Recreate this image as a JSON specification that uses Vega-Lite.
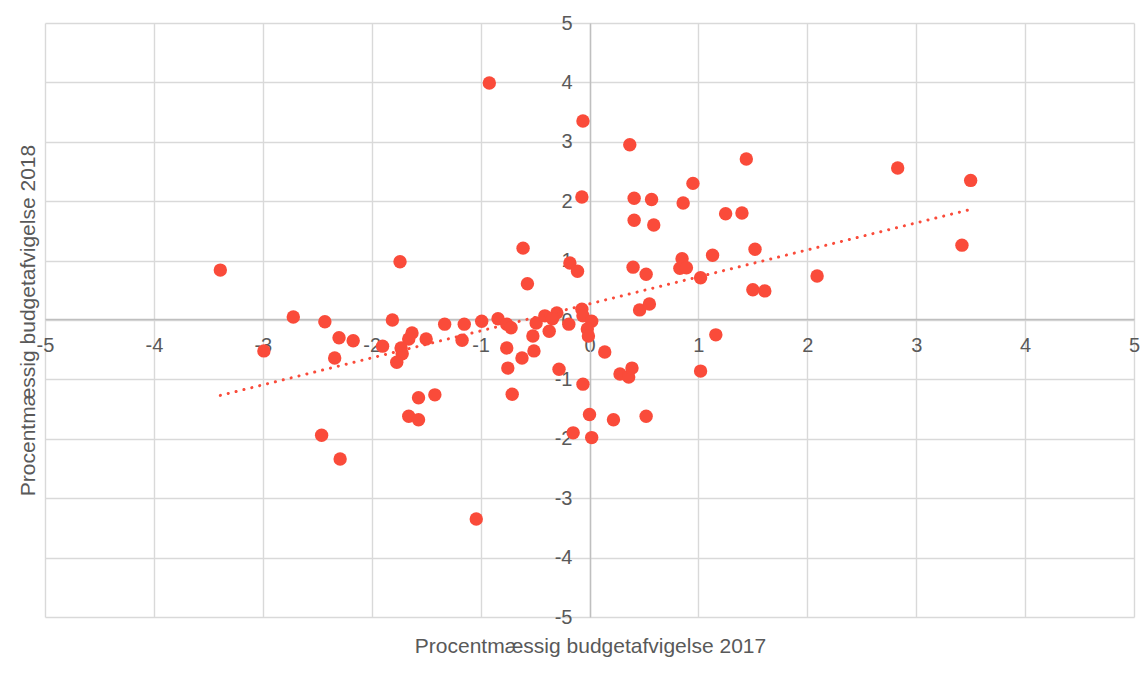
{
  "$schema": "https://vega.github.io/schema/vega-lite/v6.json",
  "width": 1089,
  "height": 594,
  "autosize": "none",
  "padding": {"left": 45, "top": 23, "right": 13, "bottom": 64},
  "background": "white",
  "config": {
    "view": {"stroke": null},
    "font": "Liberation Sans"
  },
  "data": {
    "values": [
      {"x": -3.39, "y": 0.84}, {"x": -2.99, "y": -0.52}, {"x": -2.72, "y": 0.05}, {"x": -2.43, "y": -0.03},
      {"x": -2.30, "y": -0.30}, {"x": -2.17, "y": -0.35}, {"x": -2.34, "y": -0.64}, {"x": -2.46, "y": -1.94},
      {"x": -2.29, "y": -2.34}, {"x": -1.74, "y": 0.98}, {"x": -1.81, "y": 0.0}, {"x": -1.90, "y": -0.44},
      {"x": -1.63, "y": -0.22}, {"x": -1.66, "y": -0.32}, {"x": -1.73, "y": -0.47}, {"x": -1.72, "y": -0.57},
      {"x": -1.77, "y": -0.71}, {"x": -1.50, "y": -0.32}, {"x": -1.33, "y": -0.07}, {"x": -1.15, "y": -0.07},
      {"x": -1.17, "y": -0.34}, {"x": -1.57, "y": -1.31}, {"x": -1.42, "y": -1.26}, {"x": -1.66, "y": -1.62},
      {"x": -1.57, "y": -1.68}, {"x": -0.99, "y": -0.02}, {"x": -0.84, "y": 0.02}, {"x": -0.76, "y": -0.07},
      {"x": -0.72, "y": -0.13}, {"x": -0.76, "y": -0.47}, {"x": -0.75, "y": -0.81}, {"x": -0.62, "y": -0.64},
      {"x": -0.71, "y": -1.25}, {"x": -0.61, "y": 1.21}, {"x": -0.57, "y": 0.61}, {"x": -0.49, "y": -0.05},
      {"x": -0.52, "y": -0.27}, {"x": -0.51, "y": -0.52}, {"x": -0.37, "y": -0.19}, {"x": -0.41, "y": 0.07},
      {"x": -0.30, "y": 0.12}, {"x": -0.34, "y": 0.02}, {"x": -0.19, "y": -0.07}, {"x": -0.28, "y": -0.83},
      {"x": -0.18, "y": 0.96}, {"x": -0.11, "y": 0.82}, {"x": -0.07, "y": 0.18}, {"x": -0.06, "y": 0.07},
      {"x": 0.02, "y": -0.02}, {"x": -0.02, "y": -0.15}, {"x": -0.01, "y": -0.27}, {"x": -0.06, "y": -1.08},
      {"x": 0.14, "y": -0.54}, {"x": 0.0, "y": -1.59}, {"x": 0.02, "y": -1.98}, {"x": -0.15, "y": -1.90},
      {"x": 0.22, "y": -1.68}, {"x": 0.52, "y": -1.62}, {"x": 0.28, "y": -0.91}, {"x": 0.36, "y": -0.96},
      {"x": 0.39, "y": -0.81}, {"x": 0.40, "y": 0.89}, {"x": 0.52, "y": 0.77}, {"x": 0.46, "y": 0.17},
      {"x": 0.55, "y": 0.27}, {"x": 0.83, "y": 0.87}, {"x": 0.85, "y": 1.03}, {"x": 0.89, "y": 0.88},
      {"x": 1.02, "y": 0.71}, {"x": 1.13, "y": 1.09}, {"x": 1.16, "y": -0.25}, {"x": 1.02, "y": -0.86},
      {"x": -0.92, "y": 3.99}, {"x": -0.06, "y": 3.35}, {"x": 0.37, "y": 2.95}, {"x": -0.07, "y": 2.07},
      {"x": 0.41, "y": 2.05}, {"x": 0.57, "y": 2.03}, {"x": 0.86, "y": 1.97}, {"x": 0.95, "y": 2.30},
      {"x": 0.41, "y": 1.68}, {"x": 0.59, "y": 1.60}, {"x": 1.25, "y": 1.79}, {"x": 1.40, "y": 1.80},
      {"x": 1.44, "y": 2.71}, {"x": 1.52, "y": 1.19}, {"x": 2.83, "y": 2.56}, {"x": 3.50, "y": 2.35},
      {"x": 3.42, "y": 1.26}, {"x": 1.50, "y": 0.51}, {"x": 1.61, "y": 0.49}, {"x": 2.09, "y": 0.74},
      {"x": -1.04, "y": -3.35}
    ]
  },
  "encoding": {
    "x": {
      "field": "x",
      "type": "quantitative",
      "scale": {"domain": [-5, 5], "nice": false, "zero": false},
      "axis": {
        "orient": "bottom",
        "offset": -298,
        "values": [-5, -4, -3, -2, -1, 0, 1, 2, 3, 4, 5],
        "labelExpr": "datum.value + ''",
        "grid": true,
        "gridColor": "#d9d9d9",
        "gridWidth": 1.4,
        "domain": true,
        "domainColor": "#bfbfbf",
        "domainWidth": 1.4,
        "ticks": false,
        "labelFontSize": 20,
        "labelColor": "#595959",
        "labelPadding": 16,
        "labelOverlap": false,
        "labelFlush": false,
        "title": "Procentmæssig budgetafvigelse 2017",
        "titleFontSize": 21,
        "titleFontWeight": "normal",
        "titleColor": "#595959",
        "titleX": 545,
        "titleY": 327,
        "titleAlign": "center",
        "titleBaseline": "middle"
      }
    },
    "y": {
      "field": "y",
      "type": "quantitative",
      "scale": {"domain": [-5, 5], "nice": false, "zero": false},
      "axis": {
        "orient": "left",
        "offset": -545,
        "values": [-5, -4, -3, -2, -1, 0, 1, 2, 3, 4, 5],
        "labelExpr": "datum.value + ''",
        "grid": true,
        "gridColor": "#d9d9d9",
        "gridWidth": 1.4,
        "domain": true,
        "domainColor": "#bfbfbf",
        "domainWidth": 1.4,
        "ticks": false,
        "labelFontSize": 20,
        "labelColor": "#595959",
        "labelPadding": 18,
        "labelOverlap": false,
        "labelFlush": false,
        "labelBaseline": "middle",
        "title": "Procentmæssig budgetafvigelse 2018",
        "titleFontSize": 21,
        "titleFontWeight": "normal",
        "titleColor": "#595959",
        "titleAngle": 270,
        "titleX": -562,
        "titleY": 297,
        "titleAlign": "center",
        "titleBaseline": "middle"
      }
    }
  },
  "layer": [
    {
      "mark": {"type": "circle", "size": 180, "color": "#fa4b3a", "opacity": 1}
    },
    {
      "transform": [{"regression": "y", "on": "x"}],
      "mark": {"type": "line", "color": "#fa4b3a", "strokeWidth": 3, "strokeDash": [0.1, 8], "strokeCap": "round"}
    }
  ]
}
